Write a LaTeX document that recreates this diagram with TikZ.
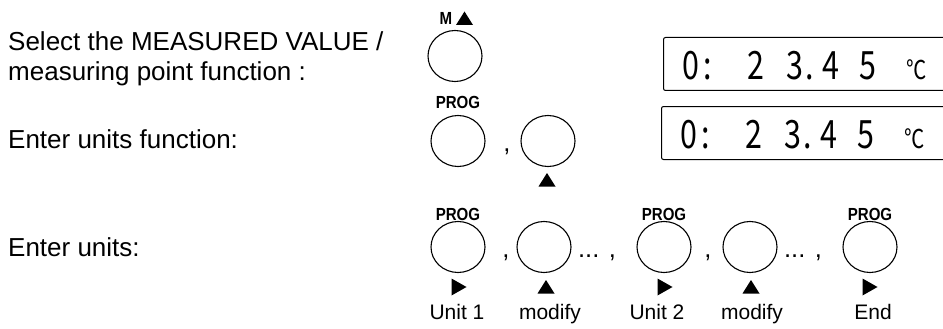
\documentclass[tikz,border=0pt]{standalone}
\usepackage{fontspec}
\usetikzlibrary{shapes.geometric}
\setmainfont{Liberation Sans}
\newfontfamily\progfont{Liberation Sans}[FakeStretch=0.86]
\newfontfamily\lcdfont{Noto Sans CJK JP}[FakeStretch=0.78]
\newcommand\uptri[2]{\fill (#1-8.5,#2+6.5) -- (#1+8.5,#2+6.5) -- (#1,#2-7) -- cycle;}
\newcommand\righttri[2]{\fill (#1-7.5,#2-8.5) -- (#1-7.5,#2+8.5) -- (#1+7.5,#2) -- cycle;}
\begin{document}
\begin{tikzpicture}[x=1pt,y=-1pt,
  btn/.style={draw, line width=1.1pt, ellipse, minimum width=54pt, minimum height=51pt, inner sep=0pt},
  desc/.style={anchor=base west, inner sep=0pt, font=\fontsize{26}{30}\selectfont},
  prog/.style={inner sep=0pt, font=\progfont\bfseries\fontsize{17.5}{18}\selectfont},
  capt/.style={anchor=base, inner sep=0pt, font=\fontsize{21}{24}\selectfont},
  sepr/.style={anchor=base, inner sep=0pt, font=\fontsize{25.5}{30}\selectfont},
  lcd/.style={draw, line width=1pt, rounded corners=2pt, anchor=north west, inner sep=0pt, minimum width=300pt, minimum height=53pt},
  dig/.style={anchor=base, inner sep=0pt, font=\lcdfont\fontsize{39}{39}\selectfont},
  degc/.style={anchor=base, inner sep=0pt, font=\lcdfont\fontsize{26}{26}\selectfont},
]
\useasboundingbox (0,0) rectangle (943,329);

% descriptions
\node[desc] (t1) at (8,51) {Select the MEASURED VALUE /};
\node[desc] (t2) at (8,81) {measuring point function :};
\node[desc] (t3) at (8,148) {Enter units function:};
\node[desc] (t4) at (8,256) {Enter units:};

% row 1
\node[prog, anchor=base] (ml) at (446,25) {M};
\uptri{464.5}{18.5}
\node[btn] (m) at (455,56) {};

% row 2
\node[prog] (p2l) at (458,102) {PROG};
\node[btn] (p2) at (458,141) {};
\node[sepr] (s21) at (507,151) {,};
\node[btn] (u2) at (548,141) {};
\uptri{547}{180}

% row 3
\node[prog] (c1l) at (458,214) {PROG};
\node[prog] (c3l) at (664,214) {PROG};
\node[prog] (c5l) at (870,214) {PROG};
\node[btn] (c1) at (458,247) {};
\node[btn] (c2) at (544,247) {};
\node[btn] (c3) at (664,247) {};
\node[btn] (c4) at (750,247) {};
\node[btn] (c5) at (870,247) {};
\node[sepr] (s1) at (506,257) {,};
\node[sepr] (s2) at (597,257) {... ,};
\node[sepr] (s3) at (708,257) {,};
\node[sepr] (s4) at (803,257) {... ,};
\righttri{459}{287}
\uptri{546}{287}
\righttri{665}{287}
\uptri{751}{287}
\righttri{870}{287}
\node[capt] (l1) at (457,319) {Unit 1};
\node[capt] (l2) at (550,319) {modify};
\node[capt] (l3) at (657,319) {Unit 2};
\node[capt] (l4) at (752,319) {modify};
\node[capt] (l5) at (873,319) {End};

% displays
\node[lcd] (d1) at (663,37) {};
\node[lcd] (d2) at (661,106) {};
\node[dig] (d1a) at (691,80) {0};
\node[dig] (d1b) at (708,80) {:};
\node[dig] (d1c) at (756,80) {2};
\node[dig] (d1d) at (795,80) {3};
\node[dig] (d1e) at (810,80) {.};
\node[dig] (d1f) at (831,80) {4};
\node[dig] (d1g) at (868,80) {5};
\node[degc] (d1h) at (917,80) {℃};
\node[dig] (d2a) at (689,148) {0};
\node[dig] (d2b) at (706,148) {:};
\node[dig] (d2c) at (754,148) {2};
\node[dig] (d2d) at (793,148) {3};
\node[dig] (d2e) at (808,148) {.};
\node[dig] (d2f) at (829,148) {4};
\node[dig] (d2g) at (866,148) {5};
\node[degc] (d2h) at (915,148) {℃};
\end{tikzpicture}
\end{document}
